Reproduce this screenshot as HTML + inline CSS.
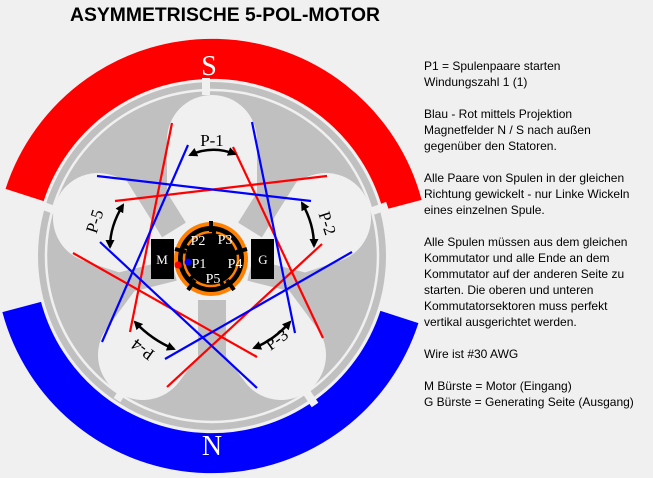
<!DOCTYPE html>
<html><head><meta charset="utf-8"><style>
html,body{margin:0;padding:0;background:#f0f0f0;}
svg{display:block;}
</style></head><body>
<svg width="653" height="478" viewBox="0 0 653 478" xmlns="http://www.w3.org/2000/svg">
<rect width="653" height="478" fill="#f0f0f0"/>
<text x="70" y="21" font-family="Liberation Sans, sans-serif" font-weight="bold" font-size="19" textLength="310" lengthAdjust="spacingAndGlyphs">ASYMMETRISCHE 5-POL-MOTOR</text>

<!-- magnets -->
<path d="M 24.6 195 A 197 197 0 0 1 402.3 205" fill="none" stroke="#ff0000" stroke-width="40"/>
<path d="M 21.7 307 A 197 197 0 0 0 399.4 317" fill="none" stroke="#0000ff" stroke-width="40"/>
<text x="209" y="75" text-anchor="middle" font-family="Liberation Serif, serif" font-size="28" fill="#fff">S</text>
<text x="212" y="455" text-anchor="middle" font-family="Liberation Serif, serif" font-size="28" fill="#fff">N</text>

<!-- rotor -->
<circle cx="212" cy="256" r="174" fill="#c0c0c0"/>
<circle cx="212" cy="256" r="166" fill="none" stroke="#f0f0f0" stroke-width="2.5"/>
<g stroke="#f0f0f0" stroke-width="8">
<line x1="206" y1="78" x2="206" y2="95"/>
<line x1="376" y1="176" x2="362" y2="184" transform="rotate(10 212 256)"/>
<line x1="52" y1="176" x2="66" y2="184" transform="rotate(-10 212 256)"/>
<line x1="117" y1="400" x2="126" y2="386"/>
<line x1="315" y1="405" x2="305" y2="390"/>
</g>
<g stroke="#f0f0f0" stroke-linecap="round" stroke-width="90">
<line x1="212" y1="200" x2="212" y2="140"/>
<line x1="260" y1="240" x2="326" y2="218"/>
<line x1="164" y1="240" x2="98" y2="218"/>
<line x1="240" y1="300" x2="281" y2="355"/>
<line x1="184" y1="300" x2="143" y2="355"/>
</g>
<g stroke="#c0c0c0" stroke-width="28">
<line x1="212" y1="300" x2="212" y2="420"/>
<line x1="250" y1="230" x2="300" y2="150"/>
<line x1="174" y1="230" x2="124" y2="150"/>
</g>
<g stroke="#c0c0c0" stroke-width="22">
<line x1="250" y1="270" x2="330" y2="290"/>
<line x1="174" y1="270" x2="94" y2="290"/>
</g>

<!-- coils -->
<g stroke-width="2.2" fill="none">
<line x1="172" y1="123" x2="130" y2="332" stroke="#f00"/>
<line x1="233" y1="147" x2="323" y2="338" stroke="#f00"/>
<line x1="115" y1="201" x2="327" y2="176" stroke="#f00"/>
<line x1="73" y1="253" x2="257" y2="357" stroke="#f00"/>
<line x1="322" y1="244" x2="167" y2="387" stroke="#f00"/>
<line x1="188" y1="145" x2="102" y2="342" stroke="#00f"/>
<line x1="252" y1="122" x2="295" y2="333" stroke="#00f"/>
<line x1="97" y1="176" x2="311" y2="201" stroke="#00f"/>
<line x1="100" y1="242" x2="257" y2="388" stroke="#00f"/>
<line x1="352" y1="252" x2="165" y2="359" stroke="#00f"/>
</g>

<!-- arrows -->
<defs><marker id="a" markerWidth="9" markerHeight="9" refX="7" refY="4.5" orient="auto-start-reverse" markerUnits="userSpaceOnUse"><path d="M0,0 L9,4.5 L0,9 z" fill="#000"/></marker></defs>
<g stroke="#000" stroke-width="2.5" fill="none" marker-start="url(#a)" marker-end="url(#a)">
<path d="M 190 155 Q 212 145 235 154"/>
<path d="M 302 203 Q 314 224 314 246"/>
<path d="M 290 322 Q 274 340 254 348"/>
<path d="M 135 322 Q 152 340 174 349"/>
<path d="M 123 205 Q 110 226 110 247"/>
</g>
<g font-family="Liberation Serif, serif" font-size="17" fill="#000" text-anchor="middle">
<text x="212" y="146">P-1</text>
<text transform="translate(322,225) rotate(72)">P-2</text>
<text transform="translate(280,344) rotate(-36)">P-3</text>
<text transform="translate(146,345) rotate(216)">P-4</text>
<text transform="translate(100,223) rotate(-72)">P-5</text>
</g>

<!-- brushes -->
<rect x="151" y="239" width="23" height="40" fill="#000"/>
<rect x="251" y="239" width="23" height="40" fill="#000"/>
<g font-family="Liberation Serif, serif" font-size="13" fill="#fff" text-anchor="middle">
<text x="162" y="264">M</text>
<text x="263" y="264">G</text>
</g>
<!-- commutator -->
<circle cx="211" cy="259" r="37" fill="#ff8000"/>
<circle cx="211" cy="259" r="33" fill="#000"/>
<circle cx="211" cy="259" r="27" fill="none" stroke="#ff8000" stroke-width="2.5" stroke-dasharray="29 4"/>
<g stroke="#000" stroke-width="4">
<line x1="211" y1="221" x2="211" y2="232"/>
<line x1="247" y1="249" x2="236" y2="252"/>
<line x1="175" y1="249" x2="186" y2="252"/>
<line x1="234" y1="290" x2="227" y2="280"/>
<line x1="188" y1="290" x2="195" y2="280"/>
</g>
<g font-family="Liberation Serif, serif" font-size="14" fill="#fff" text-anchor="middle">
<text x="198" y="245">P2</text>
<text x="225" y="244">P3</text>
<text x="199" y="268">P1</text>
<text x="235" y="268">P4</text>
<text x="213" y="283">P5</text>
</g>
<circle cx="188" cy="262" r="3.5" fill="#00f"/>
<circle cx="178" cy="265" r="3.5" fill="#f00"/>

<!-- text -->
<g font-family="Liberation Sans, sans-serif" font-size="12" fill="#000">
<text x="424" y="70">P1 = Spulenpaare starten</text>
<text x="424" y="86">Windungszahl 1 (1)</text>
<text x="424" y="118">Blau - Rot mittels Projektion</text>
<text x="424" y="134">Magnetfelder N / S nach außen</text>
<text x="424" y="150">gegenüber den Statoren.</text>
<text x="424" y="182">Alle Paare von Spulen in der gleichen</text>
<text x="424" y="198">Richtung gewickelt - nur Linke Wickeln</text>
<text x="424" y="214">eines einzelnen Spule.</text>
<text x="424" y="246">Alle Spulen müssen aus dem gleichen</text>
<text x="424" y="262">Kommutator und alle Ende an dem</text>
<text x="424" y="278">Kommutator auf der anderen Seite zu</text>
<text x="424" y="294">starten. Die oberen und unteren</text>
<text x="424" y="310">Kommutatorsektoren muss perfekt</text>
<text x="424" y="326">vertikal ausgerichtet werden.</text>
<text x="424" y="358">Wire ist #30 AWG</text>
<text x="424" y="390">M Bürste = Motor (Eingang)</text>
<text x="424" y="406">G Bürste = Generating Seite (Ausgang)</text>
</g>
</svg>
</body></html>
